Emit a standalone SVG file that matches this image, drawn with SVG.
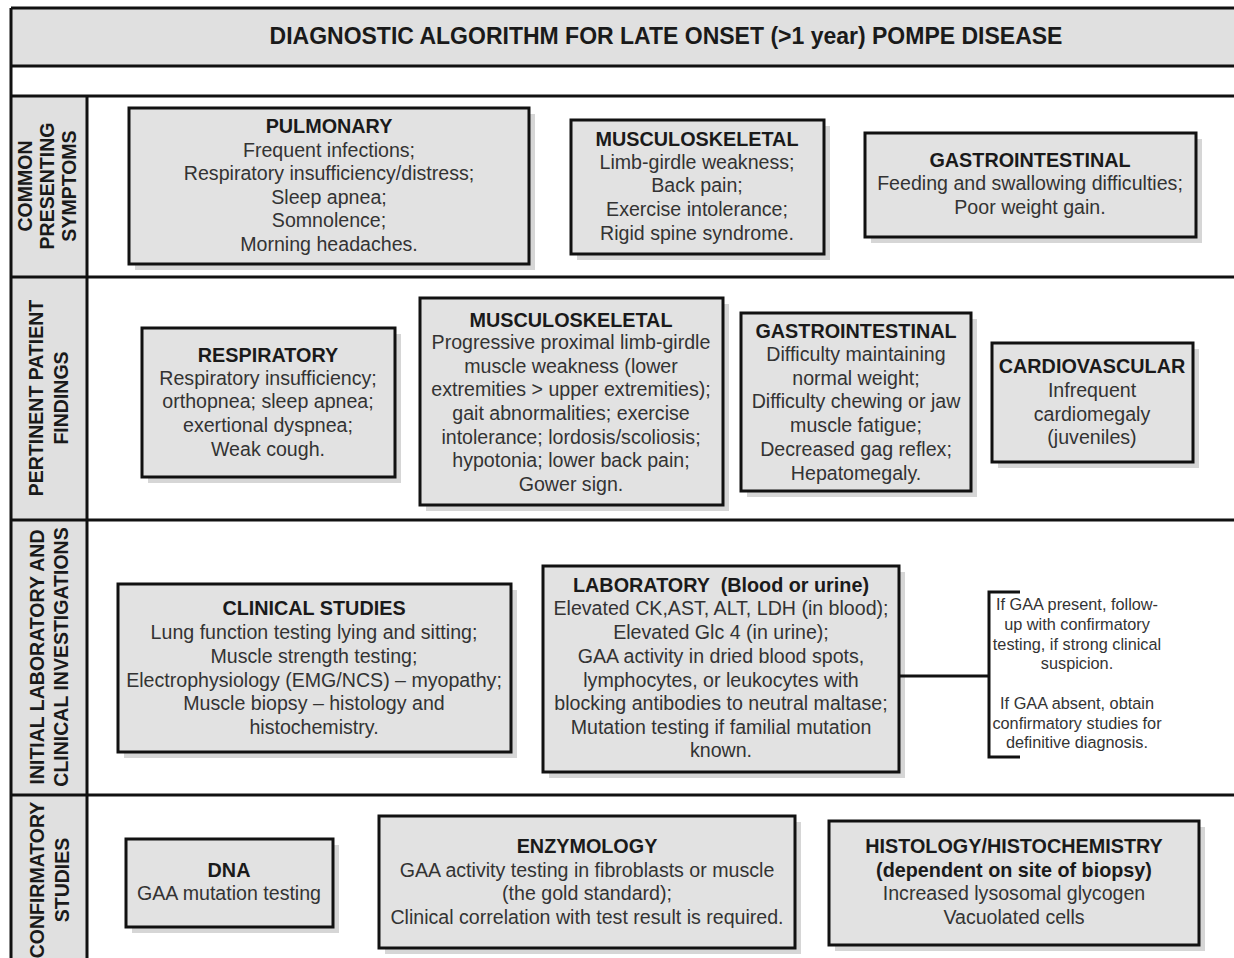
<svg xmlns="http://www.w3.org/2000/svg" width="1234" height="958" viewBox="0 0 1234 958">
<style>
.frame{stroke:#111;stroke-width:3;fill:none}
.band{fill:#e0e0e0}
.box{fill:#e2e2e2;stroke:#111;stroke-width:3}
.sh{fill:#d6d6d6}
text{font-family:"Liberation Sans",Arial,sans-serif;text-anchor:middle}
.h{font-weight:bold;font-size:19.8px;fill:#1a1a1a}
.b{font-size:19.6px;fill:#333}
.lab{font-weight:bold;font-size:19.5px;fill:#1a1a1a}
.t{font-weight:bold;font-size:23px;fill:#1a1a1a}
.n{font-size:16.3px;fill:#333}
.conn{stroke:#111;stroke-width:3;fill:none}
</style>
<rect width="1234" height="958" fill="#fff"/>
<g id="frame">
<rect class="band" x="11" y="8" width="1223" height="58"/>
<rect class="band" x="11" y="96" width="76" height="862"/>
<line class="frame" x1="11" y1="8" x2="1234" y2="8"/>
<line class="frame" x1="11" y1="66" x2="1234" y2="66"/>
<line class="frame" x1="11" y1="96" x2="1234" y2="96"/>
<line class="frame" x1="11" y1="277" x2="1234" y2="277"/>
<line class="frame" x1="11" y1="520" x2="1234" y2="520"/>
<line class="frame" x1="11" y1="795" x2="1234" y2="795"/>
<line class="frame" x1="11" y1="8" x2="11" y2="958"/>
<line class="frame" x1="87" y1="96" x2="87" y2="958"/>
<text class="t" x="666" y="44">DIAGNOSTIC ALGORITHM FOR LATE ONSET (&gt;1 year) POMPE DISEASE</text>
</g>
<g id="row-labels">
<text class="lab" transform="translate(32,186) rotate(-90)">COMMON</text>
<text class="lab" transform="translate(54,186) rotate(-90)">PRESENTING</text>
<text class="lab" transform="translate(76,186) rotate(-90)">SYMPTOMS</text>
<text class="lab" transform="translate(43,398) rotate(-90)">PERTINENT PATIENT</text>
<text class="lab" transform="translate(68,398) rotate(-90)">FINDINGS</text>
<text class="lab" transform="translate(44,657) rotate(-90)">INITIAL LABORATORY AND</text>
<text class="lab" transform="translate(68,657) rotate(-90)">CLINICAL INVESTIGATIONS</text>
<text class="lab" transform="translate(44,880) rotate(-90)">CONFIRMATORY</text>
<text class="lab" transform="translate(69,880) rotate(-90)">STUDIES</text>
</g>
<g id="pulmonary">
<rect class="sh" x="135" y="114" width="400" height="156"/>
<rect class="box" x="129" y="108" width="400" height="156"/>
<text class="h" x="329" y="133">PULMONARY</text>
<text class="b" x="329" y="157">Frequent infections;</text>
<text class="b" x="329" y="180">Respiratory insufficiency/distress;</text>
<text class="b" x="329" y="204">Sleep apnea;</text>
<text class="b" x="329" y="227">Somnolence;</text>
<text class="b" x="329" y="251">Morning headaches.</text>
</g>
<g id="msk-symptoms">
<rect class="sh" x="577" y="126" width="253" height="134"/>
<rect class="box" x="571" y="120" width="253" height="134"/>
<text class="h" x="697" y="146">MUSCULOSKELETAL</text>
<text class="b" x="697" y="169">Limb-girdle weakness;</text>
<text class="b" x="697" y="192">Back pain;</text>
<text class="b" x="697" y="216">Exercise intolerance;</text>
<text class="b" x="697" y="240">Rigid spine syndrome.</text>
</g>
<g id="gi-symptoms">
<rect class="sh" x="871" y="139" width="331" height="104"/>
<rect class="box" x="865" y="133" width="331" height="104"/>
<text class="h" x="1030" y="167">GASTROINTESTINAL</text>
<text class="b" x="1030" y="190">Feeding and swallowing difficulties;</text>
<text class="b" x="1030" y="214">Poor weight gain.</text>
</g>
<g id="respiratory">
<rect class="sh" x="148" y="334" width="253" height="149"/>
<rect class="box" x="142" y="328" width="253" height="149"/>
<text class="h" x="268" y="362">RESPIRATORY</text>
<text class="b" x="268" y="385">Respiratory insufficiency;</text>
<text class="b" x="268" y="408">orthopnea; sleep apnea;</text>
<text class="b" x="268" y="432">exertional dyspnea;</text>
<text class="b" x="268" y="456">Weak cough.</text>
</g>
<g id="msk-findings">
<rect class="sh" x="426" y="304" width="303" height="207"/>
<rect class="box" x="420" y="298" width="303" height="207"/>
<text class="h" x="571" y="327">MUSCULOSKELETAL</text>
<text class="b" x="571" y="349">Progressive proximal limb-girdle</text>
<text class="b" x="571" y="373">muscle weakness (lower</text>
<text class="b" x="571" y="396">extremities &gt; upper extremities);</text>
<text class="b" x="571" y="420">gait abnormalities; exercise</text>
<text class="b" x="571" y="444">intolerance; lordosis/scoliosis;</text>
<text class="b" x="571" y="467">hypotonia; lower back pain;</text>
<text class="b" x="571" y="491">Gower sign.</text>
</g>
<g id="gi-findings">
<rect class="sh" x="747" y="319" width="230" height="178"/>
<rect class="box" x="741" y="313" width="230" height="178"/>
<text class="h" x="856" y="338">GASTROINTESTINAL</text>
<text class="b" x="856" y="361">Difficulty maintaining</text>
<text class="b" x="856" y="385">normal weight;</text>
<text class="b" x="856" y="408">Difficulty chewing or jaw</text>
<text class="b" x="856" y="432">muscle fatigue;</text>
<text class="b" x="856" y="456">Decreased gag reflex;</text>
<text class="b" x="856" y="480">Hepatomegaly.</text>
</g>
<g id="cardiovascular">
<rect class="sh" x="998" y="349" width="201" height="119"/>
<rect class="box" x="992" y="343" width="201" height="119"/>
<text class="h" x="1092" y="373">CARDIOVASCULAR</text>
<text class="b" x="1092" y="397">Infrequent</text>
<text class="b" x="1092" y="421">cardiomegaly</text>
<text class="b" x="1092" y="444">(juveniles)</text>
</g>
<g id="clinical-studies">
<rect class="sh" x="124" y="590" width="393" height="168"/>
<rect class="box" x="118" y="584" width="393" height="168"/>
<text class="h" x="314" y="615">CLINICAL STUDIES</text>
<text class="b" x="314" y="639">Lung function testing lying and sitting;</text>
<text class="b" x="314" y="663">Muscle strength testing;</text>
<text class="b" x="314" y="687">Electrophysiology (EMG/NCS) – myopathy;</text>
<text class="b" x="314" y="710">Muscle biopsy – histology and</text>
<text class="b" x="314" y="734">histochemistry.</text>
</g>
<g id="laboratory">
<rect class="sh" x="549" y="572" width="356" height="206"/>
<rect class="box" x="543" y="566" width="356" height="206"/>
<text class="h" x="721" y="592" xml:space="preserve">LABORATORY  (Blood or urine)</text>
<text class="b" x="721" y="615">Elevated CK,AST, ALT, LDH (in blood);</text>
<text class="b" x="721" y="639">Elevated Glc 4 (in urine);</text>
<text class="b" x="721" y="663">GAA activity in dried blood spots,</text>
<text class="b" x="721" y="687">lymphocytes, or leukocytes with</text>
<text class="b" x="721" y="710">blocking antibodies to neutral maltase;</text>
<text class="b" x="721" y="734">Mutation testing if familial mutation</text>
<text class="b" x="721" y="757">known.</text>
</g>
<g id="note">
<text class="n" x="1077" y="610">If GAA present, follow-</text>
<text class="n" x="1077" y="630">up with confirmatory</text>
<text class="n" x="1077" y="650">testing, if strong clinical</text>
<text class="n" x="1077" y="669">suspicion.</text>
<text class="n" x="1077" y="709">If GAA absent, obtain</text>
<text class="n" x="1077" y="729">confirmatory studies for</text>
<text class="n" x="1077" y="748">definitive diagnosis.</text>
</g>
<g id="dna">
<rect class="sh" x="132" y="845" width="207" height="88"/>
<rect class="box" x="126" y="839" width="207" height="88"/>
<text class="h" x="229" y="877">DNA</text>
<text class="b" x="229" y="900">GAA mutation testing</text>
</g>
<g id="enzymology">
<rect class="sh" x="385" y="822" width="416" height="132"/>
<rect class="box" x="379" y="816" width="416" height="132"/>
<text class="h" x="587" y="853">ENZYMOLOGY</text>
<text class="b" x="587" y="877">GAA activity testing in fibroblasts or muscle</text>
<text class="b" x="587" y="900">(the gold standard);</text>
<text class="b" x="587" y="924">Clinical correlation with test result is required.</text>
</g>
<g id="histology">
<rect class="sh" x="835" y="827" width="370" height="124"/>
<rect class="box" x="829" y="821" width="370" height="124"/>
<text class="h" x="1014" y="853">HISTOLOGY/HISTOCHEMISTRY</text>
<text class="h" x="1014" y="877">(dependent on site of biopsy)</text>
<text class="b" x="1014" y="900">Increased lysosomal glycogen</text>
<text class="b" x="1014" y="924">Vacuolated cells</text>
</g>
<g id="connectors">
<line class="conn" x1="899" y1="676" x2="989" y2="676"/>
<path class="conn" d="M1020,592 H989 V757 H1020"/>
</g>
</svg>
